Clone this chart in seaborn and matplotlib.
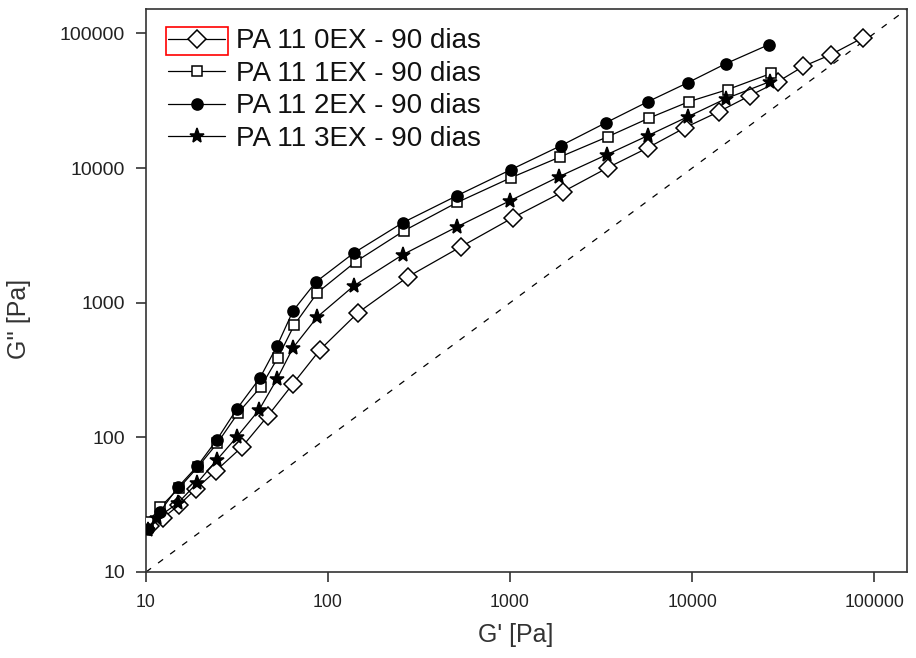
import numpy as np
import pandas as pd
import matplotlib
matplotlib.use('Agg')
import matplotlib.pyplot as plt
import seaborn as sns
from matplotlib.patches import Rectangle

# G' e G'' (Pa)
gp_0ex = [10.5, 12.4, 15.2, 18.8, 24.2, 33.7, 46.8, 64.2, 90.4, 146, 275, 538, 1038, 1955,
          3450, 5730, 9160, 14060, 20840, 29700, 40740, 58030, 87100]
gpp_0ex = [22, 25.2, 31.5, 41.5, 56.4, 85, 145, 250, 448, 843, 1560, 2610, 4290, 6680,
           10090, 14190, 20000, 26300, 34600, 43970, 56900, 69800, 93300]

gp_1ex = [10.3, 12.0, 15.2, 19.3, 24.7, 32.2, 42.7, 53.0, 65.3, 87.5, 142, 262, 512, 1012,
          1880, 3450, 5800, 9630, 15700, 27100]
gpp_1ex = [23.5, 30.4, 42.1, 60.4, 91, 153, 237, 390, 686, 1190, 2020, 3430, 5560, 8490,
           12100, 17140, 23530, 31200, 38350, 50450]

gp_2ex = [10.25, 11.9, 15.0, 19.1, 24.5, 31.6, 42.3, 52.5, 64.2, 85.9, 139, 258, 512, 1012,
          1905, 3370, 5730, 9510, 15380, 26500]
gpp_2ex = [21, 27.9, 42.8, 61, 96, 163, 277, 479, 870, 1430, 2350, 3940, 6250, 9750,
           14690, 21780, 31200, 43230, 59840, 82800]

gp_3ex = [10.25, 11.5, 15.0, 19.1, 24.5, 31.6, 41.8, 52.5, 64.2, 87.5, 139, 258, 512, 1000,
          1860, 3400, 5730, 9510, 15380, 26850]
gpp_3ex = [20.5, 25.2, 32.6, 45.9, 68, 101, 160, 272, 463, 787, 1340, 2280, 3670, 5730,
           8650, 12590, 17460, 24150, 32880, 43970]

labels = ['PA 11 0EX - 90 dias', 'PA 11 1EX - 90 dias', 'PA 11 2EX - 90 dias', 'PA 11 3EX - 90 dias']
ticks = [10, 100, 1000, 10000, 100000]
tick_labels = ['10', '100', '1000', '10000', '100000']
lim = (10, 152000)

sns.set_style('ticks')
plt.rcParams['font.family'] = ['Liberation Sans', 'DejaVu Sans']

fig = plt.figure(figsize=(9.16, 6.58), dpi=100)
ax = fig.add_axes([0.1594, 0.1307, 0.8310, 0.8556])

# linha G' = G''
ax.plot(lim, lim, color='black', lw=0.9, ls=(0, (5, 7)), zorder=1)

series = [
    (gp_0ex, gpp_0ex, 'D', 9, 'white'),
    (gp_1ex, gpp_1ex, 's', 7.5, 'white'),
    (gp_2ex, gpp_2ex, 'o', 8, 'black'),
    (gp_3ex, gpp_3ex, '*', 11, 'black'),
]
for (gx, gy, mk, ms, fc), lab in zip(series, labels):
    df = pd.DataFrame({'gp': gx, 'gpp': gy})
    sns.lineplot(data=df, x='gp', y='gpp', ax=ax, sort=False, estimator=None,
                 color='black', lw=0.9, marker=mk, markersize=ms,
                 markerfacecolor=fc, markeredgecolor='black', markeredgewidth=1.1,
                 label=lab, zorder=3)

ax.set_xscale('log')
ax.set_yscale('log')
ax.set_xlim(lim)
ax.set_ylim(lim)
ax.set_xticks(ticks)
ax.set_xticklabels(tick_labels)
ax.set_yticks(ticks)
ax.set_yticklabels(tick_labels)
ax.minorticks_off()
ax.tick_params(direction='out', length=7, width=1.1, colors='#222222',
               top=False, right=False)
ax.tick_params(axis='x', labelsize=12.7, pad=9)
ax.tick_params(axis='y', labelsize=14, pad=8)
for sp in ax.spines.values():
    sp.set_visible(True)
    sp.set_color('#333333')
    sp.set_linewidth(1.2)

ax.set_xlabel("G' [Pa]", fontsize=18, color='#333333')
ax.set_ylabel("G'' [Pa]", fontsize=18, color='#333333')
ax.xaxis.set_label_coords(0.486, -0.09)
ax.yaxis.set_label_coords(-0.151, 0.45)

leg = ax.legend(loc='upper left', bbox_to_anchor=(0.004, 1.0), frameon=False,
                fontsize=20, handlelength=2.05, handletextpad=0.38, labelspacing=0.23,
                borderaxespad=0.3)
for t in leg.get_texts():
    t.set_color('#111111')

# caixa vermelha em volta do primeiro simbolo da legenda
fig.canvas.draw()
tb = leg.get_texts()[0].get_window_extent()
inv = fig.transFigure.inverted()
x0, y0 = inv.transform((tb.x0 - 70, tb.y0 - 1))
x1, y1 = inv.transform((tb.x0 - 8, tb.y1 + 1))
fig.patches.append(Rectangle((x0, y0), x1 - x0, y1 - y0, transform=fig.transFigure,
                             fill=False, edgecolor='red', lw=1.2))

fig.savefig('out.png', dpi=100)
